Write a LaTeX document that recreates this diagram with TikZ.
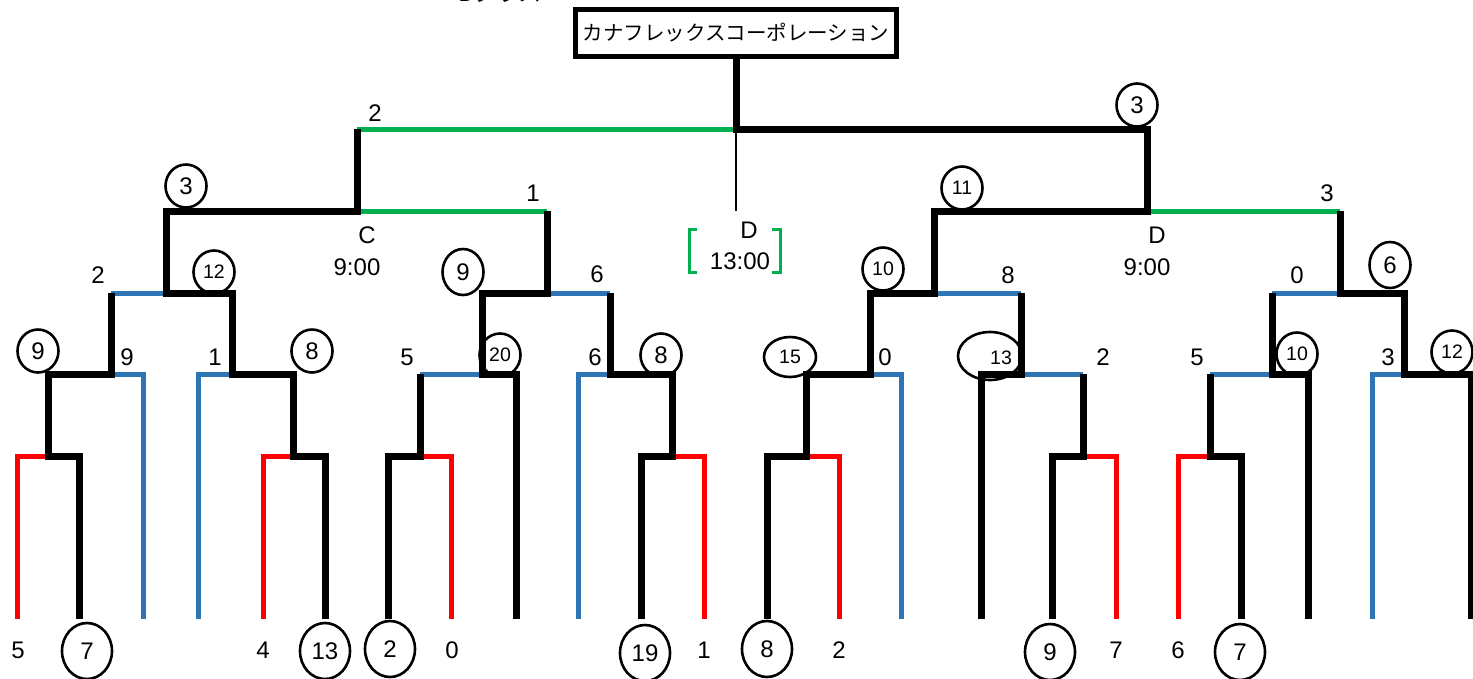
\documentclass[tikz,border=0pt]{standalone}
\usepackage{fontspec}
\setmainfont{Liberation Sans}
\newfontfamily\jpfont{Noto Sans CJK JP}
\usetikzlibrary{shapes.geometric,calc}
\definecolor{bblue}{HTML}{2E75B6}
\definecolor{rred}{HTML}{FF0000}
\definecolor{ggreen}{HTML}{00B050}
\begin{document}
\begin{tikzpicture}[x=1pt,y=-1pt,
  blk/.style={line width=7pt, black, line join=miter},
  blu/.style={line width=5pt, bblue, line join=miter},
  rd/.style={line width=5pt, rred, line join=miter},
  grn/.style={line width=5pt, ggreen},
  num/.style={font=\fontsize{24}{24}\selectfont, inner sep=0pt},
  circ/.style={draw, ellipse, line width=2.6pt, minimum width=41pt, minimum height=43pt, inner sep=0pt, font=\fontsize{24}{24}\selectfont},
  scirc/.style={circ, font=\fontsize{19.5}{19.5}\selectfont},
  bcirc/.style={circ, minimum width=50pt, minimum height=56pt},
  titlebox/.style={draw, line width=5pt, minimum width=321pt, minimum height=47pt, inner sep=0pt, font=\jpfont\fontsize{20.5}{20.5}\selectfont},
  brk/.style={line width=3pt, ggreen}
]
\useasboundingbox (0,0) rectangle (1473,678);

% partially visible class caption (cut by the top edge, as in the reference)
\node[anchor=base, font=\jpfont\fontsize{23}{23}\selectfont, inner sep=0pt] (cls) at (500,1.5) {Bクラス};

% leaves
\coordinate (l1) at (17,619);   \coordinate (l2) at (79,619);   \coordinate (l3) at (143,619);
\coordinate (l4) at (198,619);  \coordinate (l5) at (263,619);  \coordinate (l6) at (325,619);
\coordinate (l7) at (388,619);  \coordinate (l8) at (451,619);  \coordinate (l9) at (516,619);
\coordinate (l10) at (578,619); \coordinate (l11) at (641,619); \coordinate (l12) at (704,619);
\coordinate (l13) at (767,619); \coordinate (l14) at (839,619); \coordinate (l15) at (901,619);
\coordinate (l16) at (981,619); \coordinate (l17) at (1052,619);\coordinate (l18) at (1116,619);
\coordinate (l19) at (1178,619);\coordinate (l20) at (1241,619);\coordinate (l21) at (1308,619);
\coordinate (l22) at (1372,619);\coordinate (l23) at (1471,619);
% level 1
\coordinate (a1) at (48,456);  \coordinate (a2) at (293,456); \coordinate (a3) at (420,456);
\coordinate (a4) at (672,456); \coordinate (a5) at (806,456); \coordinate (a6) at (1083,456);
\coordinate (a7) at (1210,456);
% level 2
\coordinate (b1) at (111,374); \coordinate (b2) at (232,374); \coordinate (b3) at (482,374);
\coordinate (b4) at (610,374); \coordinate (b5) at (870,374); \coordinate (b6) at (1021,374);
\coordinate (b7) at (1272,374);\coordinate (b8) at (1404,374);
% level 3
\coordinate (c1) at (166,293); \coordinate (c2) at (547,293); \coordinate (c3) at (934,293);
\coordinate (c4) at (1340,293);
% level 4
\coordinate (d1) at (357,211); \coordinate (d2) at (1147,211);
% level 5
\coordinate (e) at (736,129);
\coordinate (dl) at (736,211);

\node[titlebox] (title) at (736,33) {カナフレックスコーポレーション};

% circled scores
\node[circ] (s1) at (1137,105) {3};
\node[circ] (s2) at (186,186) {3};
\node[scirc] (s3) at (962,188) {11};
\node[scirc] (s4) at (214,272) {12};
\node[circ, minimum height=46pt] (s5) at (463,272) {9};
\node[scirc] (s6) at (883,269) {10};
\node[circ, minimum height=46pt] (s7) at (1390,265) {6};
\node[circ] (s8) at (38,351) {9};
\node[circ] (s9) at (312,351) {8};
\node[scirc] (s10) at (500,355) {20};
\node[circ] (s11) at (661,355) {8};
\node[scirc, minimum width=52pt, minimum height=40pt] (s12) at (790,357) {15};
\node[draw, ellipse, line width=2.6pt, minimum width=64pt, minimum height=48pt] (s13) at (990,356) {};
\node[font=\fontsize{19.5}{19.5}\selectfont, inner sep=0pt] (s13t) at (1001,358) {13};
\node[scirc] (s14) at (1297,354) {10};
\node[scirc] (s15) at (1452,352) {12};
\node[bcirc] (s16) at (87,651) {7};
\node[bcirc] (s17) at (325,651) {13};
\node[bcirc] (s18) at (390,649) {2};
\node[bcirc] (s19) at (645,653) {19};
\node[bcirc] (s20) at (767,649) {8};
\node[bcirc] (s21) at (1050,652) {9};
\node[bcirc] (s22) at (1240,652) {7};

% red
\draw[rd] (l1) |- (a1);  \draw[rd] (l5) |- (a2);  \draw[rd] (l8) |- (a3);
\draw[rd] (l12) |- (a4); \draw[rd] (l14) |- (a5); \draw[rd] (l18) |- (a6);
\draw[rd] (l19) |- (a7);
% blue
\draw[blu] (l3) |- (b1);  \draw[blu] (l4) |- (b2);  \draw[blu] (a3|-b3) -- (b3);
\draw[blu] (l10) |- (b4); \draw[blu] (l15) |- (b5); \draw[blu] (b6) -- (a6|-b6);
\draw[blu] (a7|-b7) -- (b7); \draw[blu] (l22) |- (b8);
\draw[blu] (b1|-c1) -- (c1); \draw[blu] (c2) -- (b4|-c2);
\draw[blu] (c3) -- (b6|-c3); \draw[blu] (b7|-c4) -- (c4);
% green
\draw[grn] (d1) -- (c2|-d1);
\draw[grn] (d2) -- (c4|-d2);
\draw[grn] (d1|-e) -- (e);
% black
\draw[blk] (l2) |- (a1) |- (b1) -- (b1|-c1);
\draw[blk] (l6) |- (a2) |- (b2) |- (c1) |- (d1) -- (d1|-e);
\draw[blk] (l7) |- (a3) -- (a3|-b3);
\draw[blk] (l9) |- (b3) |- (c2) -- (c2|-d1);
\draw[blk] (l11) |- (a4) |- (b4) -- (b4|-c2);
\draw[blk] (l13) |- (a5) |- (b5) |- (c3) |- (d2) |- (e) -- (title.south);
\draw[blk] (l16) |- (b6) -- (b6|-c3);
\draw[blk] (l17) |- (a6) -- (a6|-b6);
\draw[blk] (l20) |- (a7) -- (a7|-b7);
\draw[blk] (l21) |- (b7) -- (b7|-c4);
\draw[blk] (l23) |- (b8) |- (c4) -- (c4|-d2);
\draw[line width=2pt] (e) -- (dl);

% plain scores
\node[num] (t1) at (375,113) {2};
\node[num] (t2) at (533,193) {1};
\node[num] (t3) at (1327,193) {3};
\node[num] (t4) at (98,275) {2};
\node[num] (t5) at (597,274) {6};
\node[num] (t6) at (1008,275) {8};
\node[num] (t7) at (1297,275) {0};
\node[num] (t8) at (127,357) {9};
\node[num] (t9) at (215,357) {1};
\node[num] (t10) at (407,357) {5};
\node[num] (t11) at (595,357) {6};
\node[num] (t12) at (885,357) {0};
\node[num] (t13) at (1103,357) {2};
\node[num] (t14) at (1197,357) {5};
\node[num] (t15) at (1388,357) {3};
\node[num] (t16) at (18,650) {5};
\node[num] (t17) at (263,650) {4};
\node[num] (t18) at (452,650) {0};
\node[num] (t19) at (704,650) {1};
\node[num] (t20) at (839,650) {2};
\node[num] (t21) at (1116,650) {7};
\node[num] (t22) at (1178,650) {6};

% court / time labels
\node[num] (cC) at (367,235) {C};
\node[num] (tC) at (357,267) {9:00};
\node[num] (cD1) at (749,230) {D};
\node[num] (tD1) at (740,261) {13:00};
\node[num] (cD2) at (1157,235) {D};
\node[num] (tD2) at (1147,267) {9:00};
\coordinate (bl) at (689,229); \coordinate (br) at (780,229);
\draw[brk] ($(bl)+(8,0)$) -- (bl) -- ++(0,43) -- ++(8,0);
\draw[brk] ($(br)+(-8,0)$) -- (br) -- ++(0,43) -- ++(-8,0);
\end{tikzpicture}
\end{document}
